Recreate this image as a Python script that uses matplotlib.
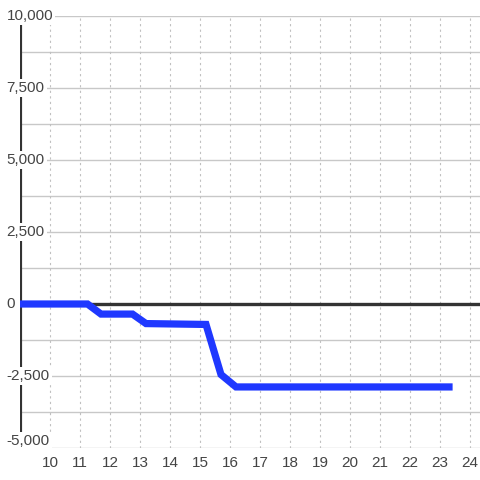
import matplotlib
matplotlib.use('Agg')
import matplotlib.pyplot as plt
import numpy as np

plt.rcParams['font.family'] = ['Liberation Sans', 'DejaVu Sans']

# data
hours = [9, 11.25, 11.7, 12.75, 13.2, 15.2, 15.7, 16.2, 23.3]
values = [0, 0, -350, -350, -680, -710, -2450, -2880, -2880]
x_ticks = list(range(10, 25))
y_ticks = [10000, 7500, 5000, 2500, 0, -2500, -5000]
y_labels = ['10,000', '7,500', '5,000', '2,500', '0', '-2,500', '-5,000']
y_grid = np.arange(-5000, 10001, 1250)

fig = plt.figure(figsize=(4.8, 4.8), dpi=100)
ax = fig.add_axes([20/480, 32/480, 1 - 20/480, (448 - 16)/480])
ax.set_xlim(9, 9 + 460/30)
ax.set_ylim(-5000, 10000)
for s in ax.spines.values():
    s.set_visible(False)
ax.set_xticks([])
ax.set_yticks([])

# grid
for g in y_grid:
    ax.axhline(g, color='#c8c8c8', lw=1, zorder=1)
for t in x_ticks:
    ax.axvline(t, color='#c0c0c0', lw=0.8, ls=(0, (2, 3)), zorder=1)

# axes lines
ax.axhline(0, color='#333333', lw=2.4, zorder=2)
ax.plot([9, 9], [-5000, 9720], color='#333333', lw=3.0, zorder=2, solid_capstyle='butt')

ax.plot(hours, values, color='#1f38ff', lw=5.2, zorder=3, solid_joinstyle='miter')

# tick labels (bottom one is nudged up so it stays inside the frame)
for v, lab in zip(y_ticks, y_labels):
    ax.text(-14/480, v, lab, transform=ax.get_yaxis_transform(), ha='left',
            va='bottom' if v == -5000 else 'center',
            fontsize=11, color='#444444', zorder=5, clip_on=False,
            bbox=dict(facecolor='white', edgecolor='none', pad=1.5))
for t in x_ticks:
    ax.text(t, -0.035, str(t), transform=ax.get_xaxis_transform(), ha='center', va='center',
            fontsize=11, color='#444444', clip_on=False)

fig.savefig('out.png', dpi=100)
